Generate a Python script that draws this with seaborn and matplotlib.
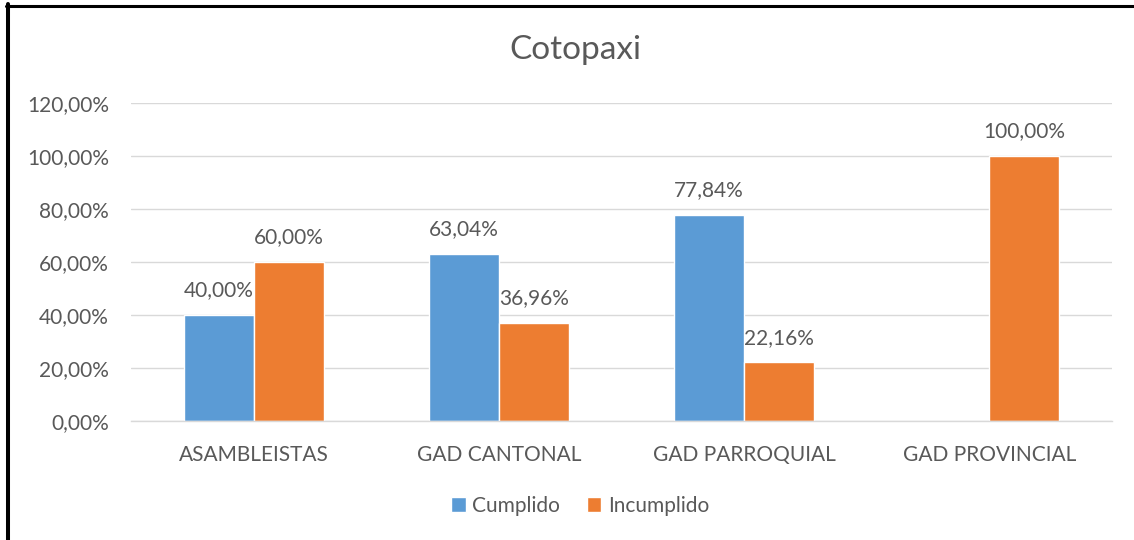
import numpy as np
import pandas as pd
import matplotlib
matplotlib.use("Agg")
import matplotlib.pyplot as plt
from matplotlib.lines import Line2D
from matplotlib.ticker import FuncFormatter
import seaborn as sns

categories = ["ASAMBLEISTAS", "GAD CANTONAL", "GAD PARROQUIAL", "GAD PROVINCIAL"]
series = ["Cumplido", "Incumplido"]
cumplido = [0.40, 0.6304, 0.7784, np.nan]
incumplido = [0.60, 0.3696, 0.2216, 1.00]
colors = ["#5B9BD5", "#ED7D31"]
yticks = [0.0, 0.2, 0.4, 0.6, 0.8, 1.0, 1.2]

def pct(v):
    return f"{v*100:.2f}".replace(".", ",") + "%"

rows = []
for c, a, b in zip(categories, cumplido, incumplido):
    rows.append({"cat": c, "serie": series[0], "val": a})
    rows.append({"cat": c, "serie": series[1], "val": b})
df = pd.DataFrame(rows)

sns.set_theme(style="white")
plt.rcParams["font.family"] = ["Lato", "DejaVu Sans"]
gray = "#595959"
fs = 15

fig = plt.figure(figsize=(11.34, 5.40), dpi=100)
ax = fig.add_axes([131/1134, 1-421/540, (1112-131)/1134, (421-103)/540])

sns.barplot(data=df.dropna(), x="cat", y="val", hue="serie", order=categories,
            hue_order=series, palette=colors, saturation=1, width=0.5714,
            gap=0, ax=ax, legend=True, errorbar=None)

ax.set_ylim(0, 1.2)
ax.set_xlim(-0.5, 3.5)
ax.set_yticks(yticks)
ax.yaxis.set_major_formatter(FuncFormatter(lambda v, p: pct(v)))
ax.grid(axis="y", color="#D9D9D9", linewidth=1.0)
ax.set_axisbelow(True)
for s in ["top", "right", "left"]:
    ax.spines[s].set_visible(False)
ax.spines["bottom"].set_color("#D9D9D9")
ax.spines["bottom"].set_linewidth(1.0)
ax.tick_params(axis="y", length=0, pad=16, labelsize=fs, labelcolor=gray)
ax.tick_params(axis="x", length=0, pad=17, labelsize=fs, labelcolor=gray)
ax.set_xlabel("")
ax.set_ylabel("")

for cont in ax.containers:
    labels = [pct(b.get_height()) if np.isfinite(b.get_height()) and b.get_height() > 0 else "" for b in cont]
    ax.bar_label(cont, labels=labels, padding=10.5, fontsize=fs, color=gray)

handles, labs = ax.get_legend_handles_labels()
ax.legend_.remove()
fig.legend(handles, labs, loc="center", bbox_to_anchor=(580/1134, 1-506/540),
           ncol=2, frameon=False, fontsize=fs, labelcolor=gray,
           handlelength=0.7, handleheight=0.7, handletextpad=0.3,
           columnspacing=1.3)

fig.text(575/1134, 1-50/540, "Cotopaxi", ha="center", va="center",
         fontsize=24, color=gray)

fig.add_artist(Line2D([8/1134, 8/1134], [0, 1-4/540], transform=fig.transFigure,
                      color="black", linewidth=2.9))
fig.add_artist(Line2D([6/1134, 1], [1-5.5/540, 1-5.5/540], transform=fig.transFigure,
                      color="black", linewidth=2.2))

fig.savefig("out.png", dpi=100)
